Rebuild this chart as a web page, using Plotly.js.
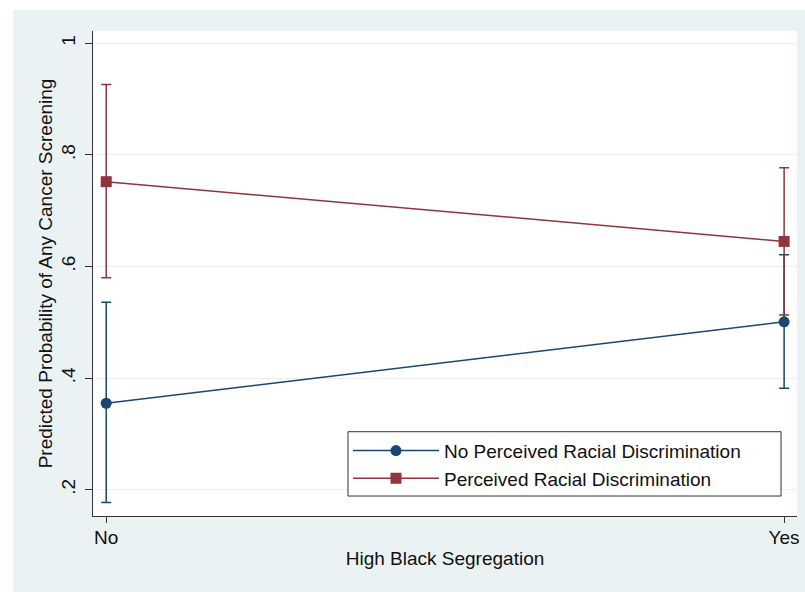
<!DOCTYPE html>
<html>
<head>
<meta charset="utf-8">
<script src="https://cdn.plot.ly/plotly-3.0.1.min.js"></script>
<style>
  html, body { margin: 0; padding: 0; background: #ffffff; }
  #chart { position: absolute; left: 13px; top: 10px; width: 792px; height: 582px; }
</style>
</head>
<body>
<div id="chart"></div>
<script>
// Data
const categories = ['No', 'Yes'];
const categoryPositions = [0, 1];
const noDiscrimEstimate = [0.355, 0.501];
const noDiscrimUpper = [0.536, 0.621];
const noDiscrimLower = [0.177, 0.382];
const discrimEstimate = [0.752, 0.645];
const discrimUpper = [0.926, 0.777];
const discrimLower = [0.580, 0.513];
const yTickValues = [0.2, 0.4, 0.6, 0.8, 1];
const yTickLabels = ['.2', '.4', '.6', '.8', '1'];
const seriesNames = ['No Perceived Racial Discrimination', 'Perceived Racial Discrimination'];

const blue = '#1a476f';
const red = '#90353b';
const font = 'Liberation Sans, Arial, Helvetica, sans-serif';

function errs(est, up, lo) {
  return {
    plus: up.map((u, i) => u - est[i]),
    minus: est.map((e, i) => e - lo[i])
  };
}
const e1 = errs(noDiscrimEstimate, noDiscrimUpper, noDiscrimLower);
const e2 = errs(discrimEstimate, discrimUpper, discrimLower);

const traces = [
  {
    x: categoryPositions, y: noDiscrimEstimate, name: seriesNames[0],
    type: 'scatter', mode: 'lines+markers',
    line: { color: blue, width: 1.5 },
    marker: { color: blue, size: 11, symbol: 'circle' },
    error_y: { type: 'data', symmetric: false, array: e1.plus, arrayminus: e1.minus,
               color: blue, thickness: 1.5, width: 5 }
  },
  {
    x: categoryPositions, y: discrimEstimate, name: seriesNames[1],
    type: 'scatter', mode: 'lines+markers',
    line: { color: red, width: 1.5 },
    marker: { color: red, size: 11, symbol: 'square' },
    error_y: { type: 'data', symmetric: false, array: e2.plus, arrayminus: e2.minus,
               color: red, thickness: 1.5, width: 5 }
  }
];

const layout = {
  width: 792, height: 582,
  paper_bgcolor: '#eaf2f3',
  plot_bgcolor: '#ffffff',
  margin: { l: 80, r: 8, t: 21, b: 76 },
  font: { family: font, size: 19, color: '#111111' },
  showlegend: true,
  legend: {
    x: 0.3622, y: 0.1738, xanchor: 'left', yanchor: 'top',
    bgcolor: 'rgba(0,0,0,0)', borderwidth: 0,
    font: { family: font, size: 19, color: '#111111' },
    itemwidth: 86
  },
  shapes: [
    { type: 'rect', xref: 'paper', yref: 'paper', layer: 'above',
      x0: 0.3622, x1: 0.9773, y0: 0.0412, y1: 0.1738,
      fillcolor: '#ffffff', line: { color: '#333333', width: 1 } }
  ],
  xaxis: {
    range: [-0.0195, 1.019],
    tickvals: categoryPositions, ticktext: categories,
    ticks: 'outside', ticklen: 6, tickcolor: '#333333', tickwidth: 1,
    ticklabelstandoff: -2,
    showline: true, linecolor: '#333333', linewidth: 1,
    showgrid: false, zeroline: false,
    title: { text: 'High Black Segregation', font: { family: font, size: 19 }, standoff: 4 }
  },
  yaxis: {
    range: [0.153, 1.022],
    tickvals: yTickValues, ticktext: yTickLabels,
    tickangle: -90,
    ticks: 'outside', ticklen: 7, tickcolor: '#333333', tickwidth: 1,
    ticklabelstandoff: 2,
    showline: true, linecolor: '#333333', linewidth: 1,
    showgrid: true, gridcolor: '#eeeeee', gridwidth: 1, zeroline: false,
    title: { text: 'Predicted Probability of Any Cancer Screening', font: { family: font, size: 19 }, standoff: 0 }
  }
};

Plotly.newPlot('chart', traces, layout, { displayModeBar: false, staticPlot: true });
</script>
</body>
</html>
